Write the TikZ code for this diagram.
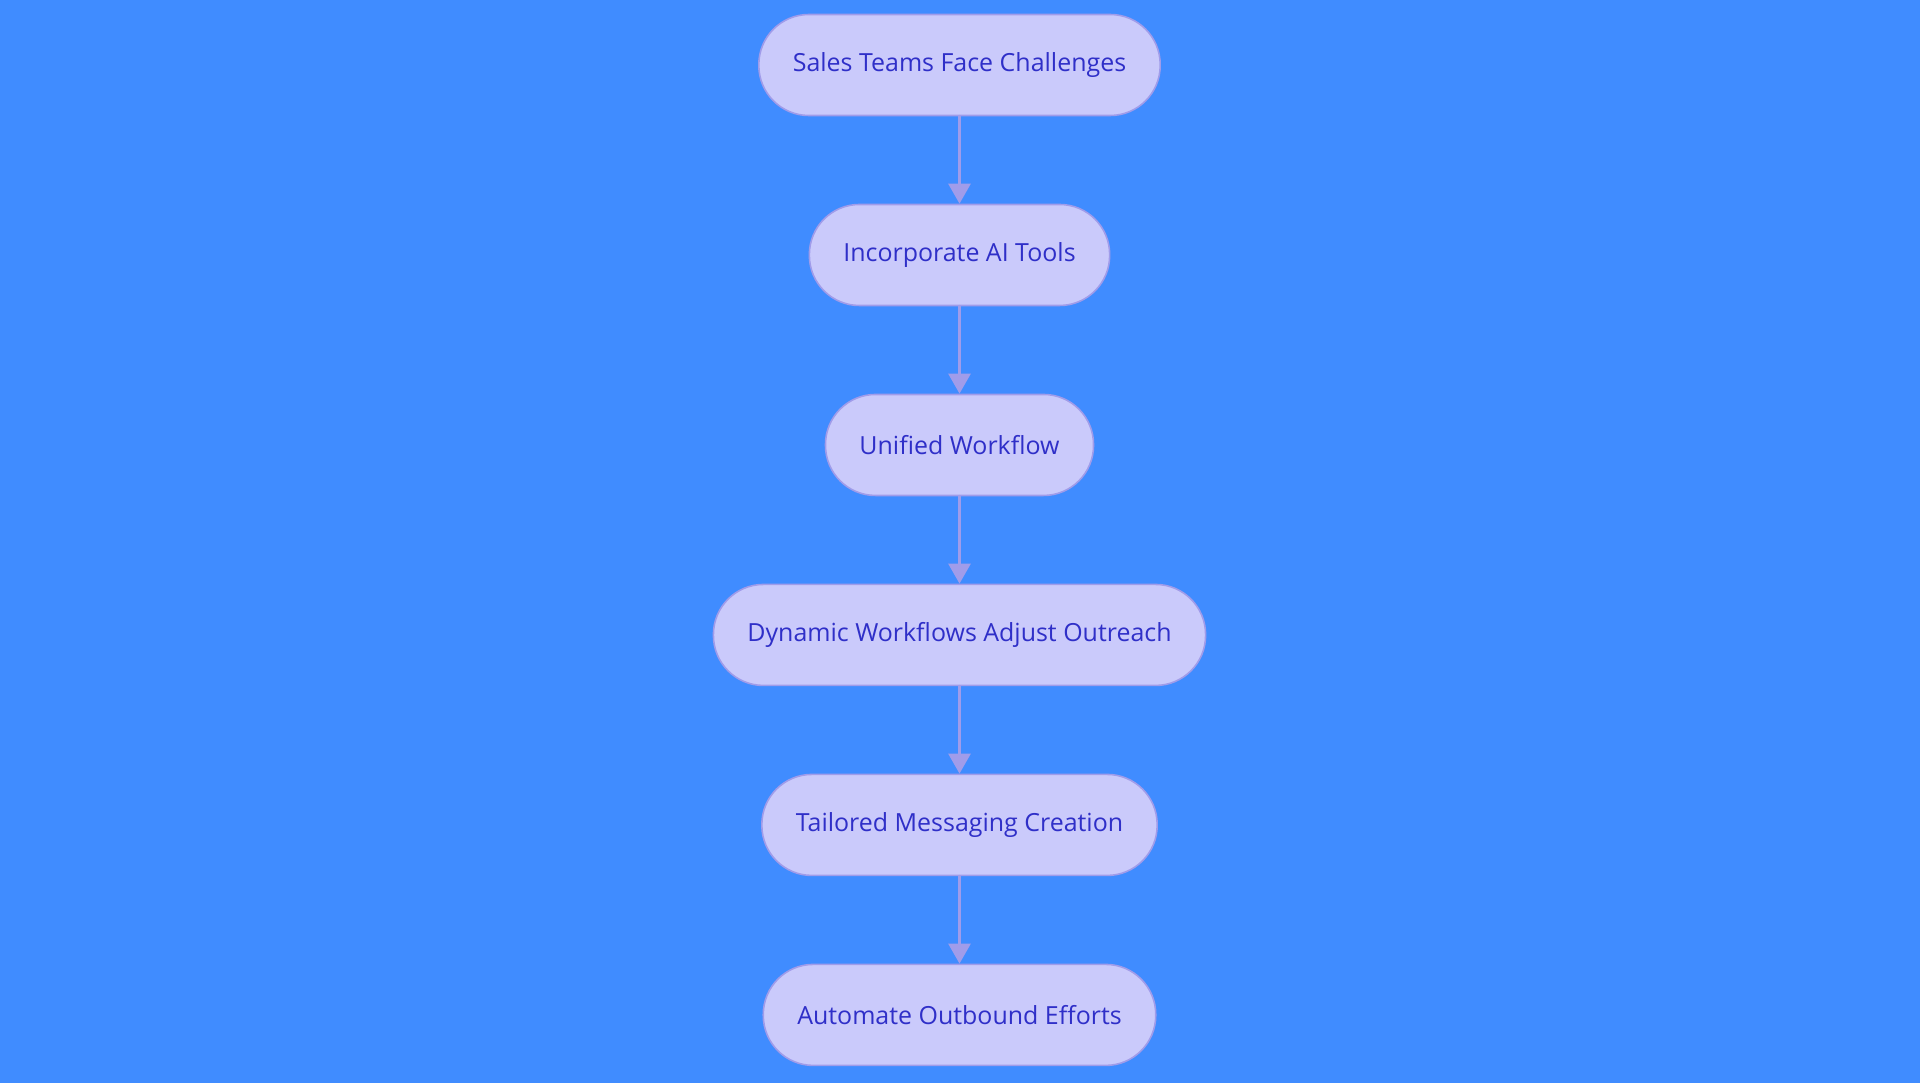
\documentclass[tikz,border=0pt]{standalone}
\usepackage{fontspec}
\setmainfont{Open Sans}
\usetikzlibrary{positioning,arrows.meta}
\definecolor{bgblue}{HTML}{408CFF}
\definecolor{boxfill}{HTML}{CACAFB}
\definecolor{boxline}{HTML}{A09CEA}
\definecolor{boxtext}{HTML}{2F2FC8}
\begin{document}
\begin{tikzpicture}[font=\fontsize{14.2}{17}\selectfont, line join=round, line cap=round, >={Triangle[width=0.44cm,length=0.4cm]},
	pill/.style={draw=boxline, fill=boxfill, text=boxtext, line width=0.9pt, rounded corners=1.0cm, minimum height=2.02cm, inner xsep=0.68cm},
	link/.style={->, draw=boxline, fill=boxline, line width=1.6pt}]
					\fill[bgblue] (0,0) rectangle (38.4,-21.66);
					\useasboundingbox (0,0) rectangle (38.4,-21.66);
					\node[pill] (challenges) at (19.19,-1.30) {Sales Teams Face Challenges};
					\node[pill, below=1.748cm of challenges] (aitools) {Incorporate AI Tools};
					\node[pill, below=1.748cm of aitools] (unified) {Unified Workflow};
					\node[pill, below=1.748cm of unified] (dynamic) {Dynamic Workflows Adjust Outreach};
					\node[pill, below=1.748cm of dynamic] (tailored) {Tailored Messaging Creation};
					\node[pill, below=1.748cm of tailored] (automate) {Automate Outbound Efforts};
					\draw[link] (challenges) -- (aitools);
					\draw[link] (aitools) -- (unified);
					\draw[link] (unified) -- (dynamic);
					\draw[link] (dynamic) -- (tailored);
					\draw[link] (tailored) -- (automate);
\end{tikzpicture}
\end{document}
